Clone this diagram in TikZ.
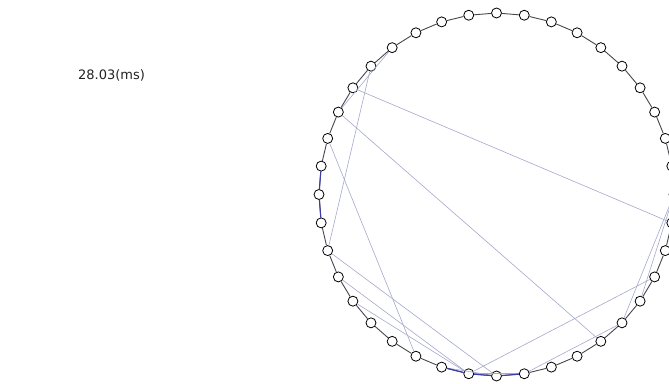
\documentclass[tikz,border=0pt]{standalone}
\usepackage{fontspec}
\setmainfont{DejaVu Sans}
\definecolor{ringgray}{HTML}{46464E}
\definecolor{ringblue}{HTML}{3C3CA8}
\definecolor{chordc}{HTML}{A4A8CC}
\definecolor{txt}{HTML}{222222}
\begin{document}
\begin{tikzpicture}[x=1pt,y=1pt,
  vert/.style={circle,draw=black,fill=white,line width=0.8pt,inner sep=0pt,minimum size=10pt},
  ringedge/.style={draw=ringgray,line width=0.9pt},
  ringblue/.style={draw=ringblue,line width=1.1pt},
  chord/.style={draw=chordc,line width=0.6pt}]
\useasboundingbox (0,0) rectangle (669,383);
\node[font=\fontsize{13}{15}\selectfont,text=txt,anchor=west,inner sep=0pt] (label) at (78,308) {28.03(ms)};
\foreach \k in {0,...,39}
  \node[vert] (v\k) at ({496.5+177.5*cos(9*\k)},{188.5+181.5*sin(9*\k)}) {};
% chords
\foreach \a/\b in {16/39,15/22,17/34,18/27,22/30,23/29,24/29,37/29,0/36,0/35,31/35,14/17,28/30,29/31}
  \draw[chord] (v\a) -- (v\b);
% ring
\foreach \k in {0,...,39}{
  \pgfmathtruncatemacro{\n}{mod(\k+1,40)}
  \draw[ringedge] (v\k) -- (v\n);
}
\foreach \a/\b in {19/20,20/21,28/29,29/30,30/31}
  \draw[ringblue] (v\a) -- (v\b);
\end{tikzpicture}
\end{document}
